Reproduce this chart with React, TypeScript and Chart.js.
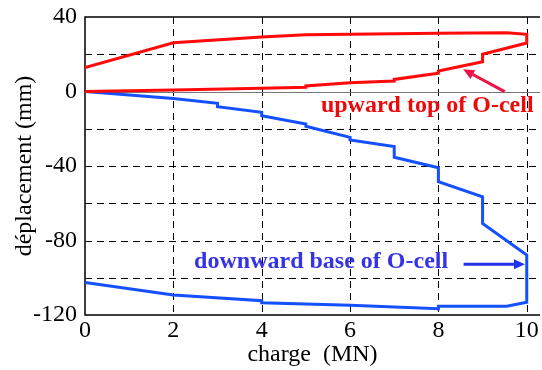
import React, { useEffect, useRef } from "react";
import { Chart, registerables } from "chart.js";

Chart.register(...registerables);

// Upward movement of the top of the O-cell (load, unload)
const redX = [0, 2, 4, 5, 5, 6, 7, 7, 8, 8, 9, 9, 10, 10, 9.55, 8, 6, 5, 4, 2, 0];
const redY = [0, 0.8, 1.7, 2.3, 3.0, 4.7, 5.6, 6.5, 9.8, 11, 16, 20, 26, 30.7, 31.6, 31.3, 30.8, 30.5, 29.2, 26.2, 12.8];

// Downward movement of the base of the O-cell
const blueX = [0, 2, 3, 3, 4, 4, 5, 5, 6, 6, 7, 7, 8, 8, 9, 9, 10, 10, 9.55, 8, 8, 6, 4, 4, 2, 0];
const blueY = [0, -3.7, -6.3, -8.2, -11.2, -13, -17.4, -18.7, -24.6, -26, -29.6, -35.3, -40.9, -48.4, -56.5, -70.8, -87.8, -113.2, -115.3, -115.3, -116.6, -114.8, -113.4, -112.3, -109.3, -102.5];

const xTicks = [0, 2, 4, 6, 8, 10];
const yGrid = [20, -20, -40, -60, -80, -100];
const yLabelTicks = [40, 0, -40, -80, -120];

const xTitle = "charge  (MN)";
const yTitle = "déplacement (mm)";
const redLabel = "upward top of O-cell";
const blueLabel = "downward base of O-cell";

const FONT = '"Liberation Serif", "Times New Roman", serif';

function toPoints(xs: number[], ys: number[]) {
  return xs.map((x, i) => ({ x, y: ys[i] }));
}

function arrow(ctx: CanvasRenderingContext2D, x1: number, y1: number, x2: number, y2: number, color: string) {
  const ang = Math.atan2(y2 - y1, x2 - x1);
  const hl = 11;
  const hw = 5;
  const bx = x2 - hl * Math.cos(ang);
  const by = y2 - hl * Math.sin(ang);
  ctx.save();
  ctx.strokeStyle = color;
  ctx.fillStyle = color;
  ctx.lineWidth = 3;
  ctx.beginPath();
  ctx.moveTo(x1, y1);
  ctx.lineTo(bx, by);
  ctx.stroke();
  ctx.beginPath();
  ctx.moveTo(x2, y2);
  ctx.lineTo(bx + hw * Math.sin(ang), by - hw * Math.cos(ang));
  ctx.lineTo(bx - hw * Math.sin(ang), by + hw * Math.cos(ang));
  ctx.closePath();
  ctx.fill();
  ctx.restore();
}

const framePlugin = {
  id: "frame",
  beforeDatasetsDraw(chart: any) {
    const { ctx, chartArea, scales } = chart;
    const xs = scales.x;
    const ys = scales.y;
    ctx.save();
    ctx.lineWidth = 1;
    ctx.strokeStyle = "#000";
    ctx.setLineDash([7, 5]);
    for (const v of yGrid) {
      const py = Math.round(ys.getPixelForValue(v)) + 0.5;
      ctx.beginPath();
      ctx.moveTo(chartArea.left, py);
      ctx.lineTo(chartArea.right, py);
      ctx.stroke();
    }
    for (const v of xTicks) {
      if (v === 0) continue;
      const px = Math.round(xs.getPixelForValue(v)) + 0.5;
      ctx.beginPath();
      ctx.moveTo(px, chartArea.top);
      ctx.lineTo(px, chartArea.bottom);
      ctx.stroke();
    }
    ctx.setLineDash([]);
    // zero line
    ctx.strokeStyle = "#777";
    const p0 = Math.round(ys.getPixelForValue(0)) + 0.5;
    ctx.beginPath();
    ctx.moveTo(chartArea.left, p0);
    ctx.lineTo(chartArea.right, p0);
    ctx.stroke();
    // frame
    ctx.strokeStyle = "#000";
    ctx.lineWidth = 1.5;
    ctx.beginPath();
    ctx.moveTo(chartArea.right, chartArea.top);
    ctx.lineTo(chartArea.left, chartArea.top);
    ctx.lineTo(chartArea.left, chartArea.bottom);
    ctx.lineTo(chartArea.right, chartArea.bottom);
    ctx.stroke();
    ctx.restore();
  },
  afterDatasetsDraw(chart: any) {
    const { ctx, scales } = chart;
    const xs = scales.x;
    const ys = scales.y;
    ctx.save();
    ctx.font = "bold 24px " + FONT;
    ctx.textBaseline = "alphabetic";
    ctx.fillStyle = "#ee0a0a";
    ctx.textAlign = "left";
    ctx.fillText(redLabel, xs.getPixelForValue(5.34), ys.getPixelForValue(-11));
    ctx.fillStyle = "#3434e6";
    ctx.textAlign = "right";
    ctx.fillText(blueLabel, xs.getPixelForValue(8.22), ys.getPixelForValue(-94.8));
    ctx.restore();
    arrow(ctx, xs.getPixelForValue(9.5), ys.getPixelForValue(-0.1), xs.getPixelForValue(8.56), ys.getPixelForValue(11.9), "#ee1144");
    arrow(ctx, xs.getPixelForValue(8.57), ys.getPixelForValue(-92.8), xs.getPixelForValue(9.96), ys.getPixelForValue(-92.8), "#2233ee");
  },
};

export default function App() {
  const ref = useRef<HTMLCanvasElement | null>(null);
  useEffect(() => {
    if (!ref.current) return;
    const chart = new Chart(ref.current, {
      type: "scatter",
      data: {
        datasets: [
          {
            data: toPoints(redX, redY),
            showLine: true,
            borderColor: "#ff0a0a",
            borderWidth: 3,
            pointRadius: 0,
            tension: 0,
          },
          {
            data: toPoints(blueX, blueY),
            showLine: true,
            borderColor: "#1450ff",
            borderWidth: 3,
            pointRadius: 0,
            tension: 0,
          },
        ],
      },
      options: {
        animation: false,
        responsive: false,
        events: [],
        layout: { padding: { top: 17, right: 2, left: 0, bottom: 0 } },
        plugins: { legend: { display: false }, tooltip: { enabled: false } },
        scales: {
          x: {
            type: "linear",
            min: 0,
            max: 10.3,
            grid: { display: false, drawTicks: false },
            border: { display: false },
            afterBuildTicks: (s: any) => {
              s.ticks = xTicks.map((v) => ({ value: v }));
            },
            afterFit: (s: any) => {
              s.height = 55;
              s.paddingLeft = 0;
              s.paddingRight = 0;
            },
            ticks: {
              padding: 1,
              color: "#000",
              font: { family: FONT, size: 24 },
              callback: (v: any) => String(v),
            },
            title: {
              display: true,
              text: xTitle,
              color: "#000",
              font: { family: FONT, size: 24 },
              padding: { top: 0, bottom: 1 },
            },
          },
          y: {
            type: "linear",
            min: -120,
            max: 40,
            grid: { display: false, drawTicks: false },
            border: { display: false },
            afterBuildTicks: (s: any) => {
              s.ticks = yLabelTicks.map((v) => ({ value: v }));
            },
            afterFit: (s: any) => {
              s.width = 85;
              s.paddingTop = 0;
              s.paddingBottom = 0;
            },
            ticks: {
              padding: 8,
              color: "#000",
              font: { family: FONT, size: 24 },
              callback: (v: any) => String(v),
            },
            title: {
              display: true,
              text: yTitle,
              color: "#000",
              font: { family: FONT, size: 24 },
              padding: { top: 10, bottom: 0 },
            },
          },
        },
      },
      plugins: [framePlugin],
    });
    return () => chart.destroy();
  }, []);
  return (
    <div style={{ position: "absolute", left: 0, top: 0, width: 542, height: 370, background: "#fff" }}>
      <canvas ref={ref} width={542} height={370} />
    </div>
  );
}
